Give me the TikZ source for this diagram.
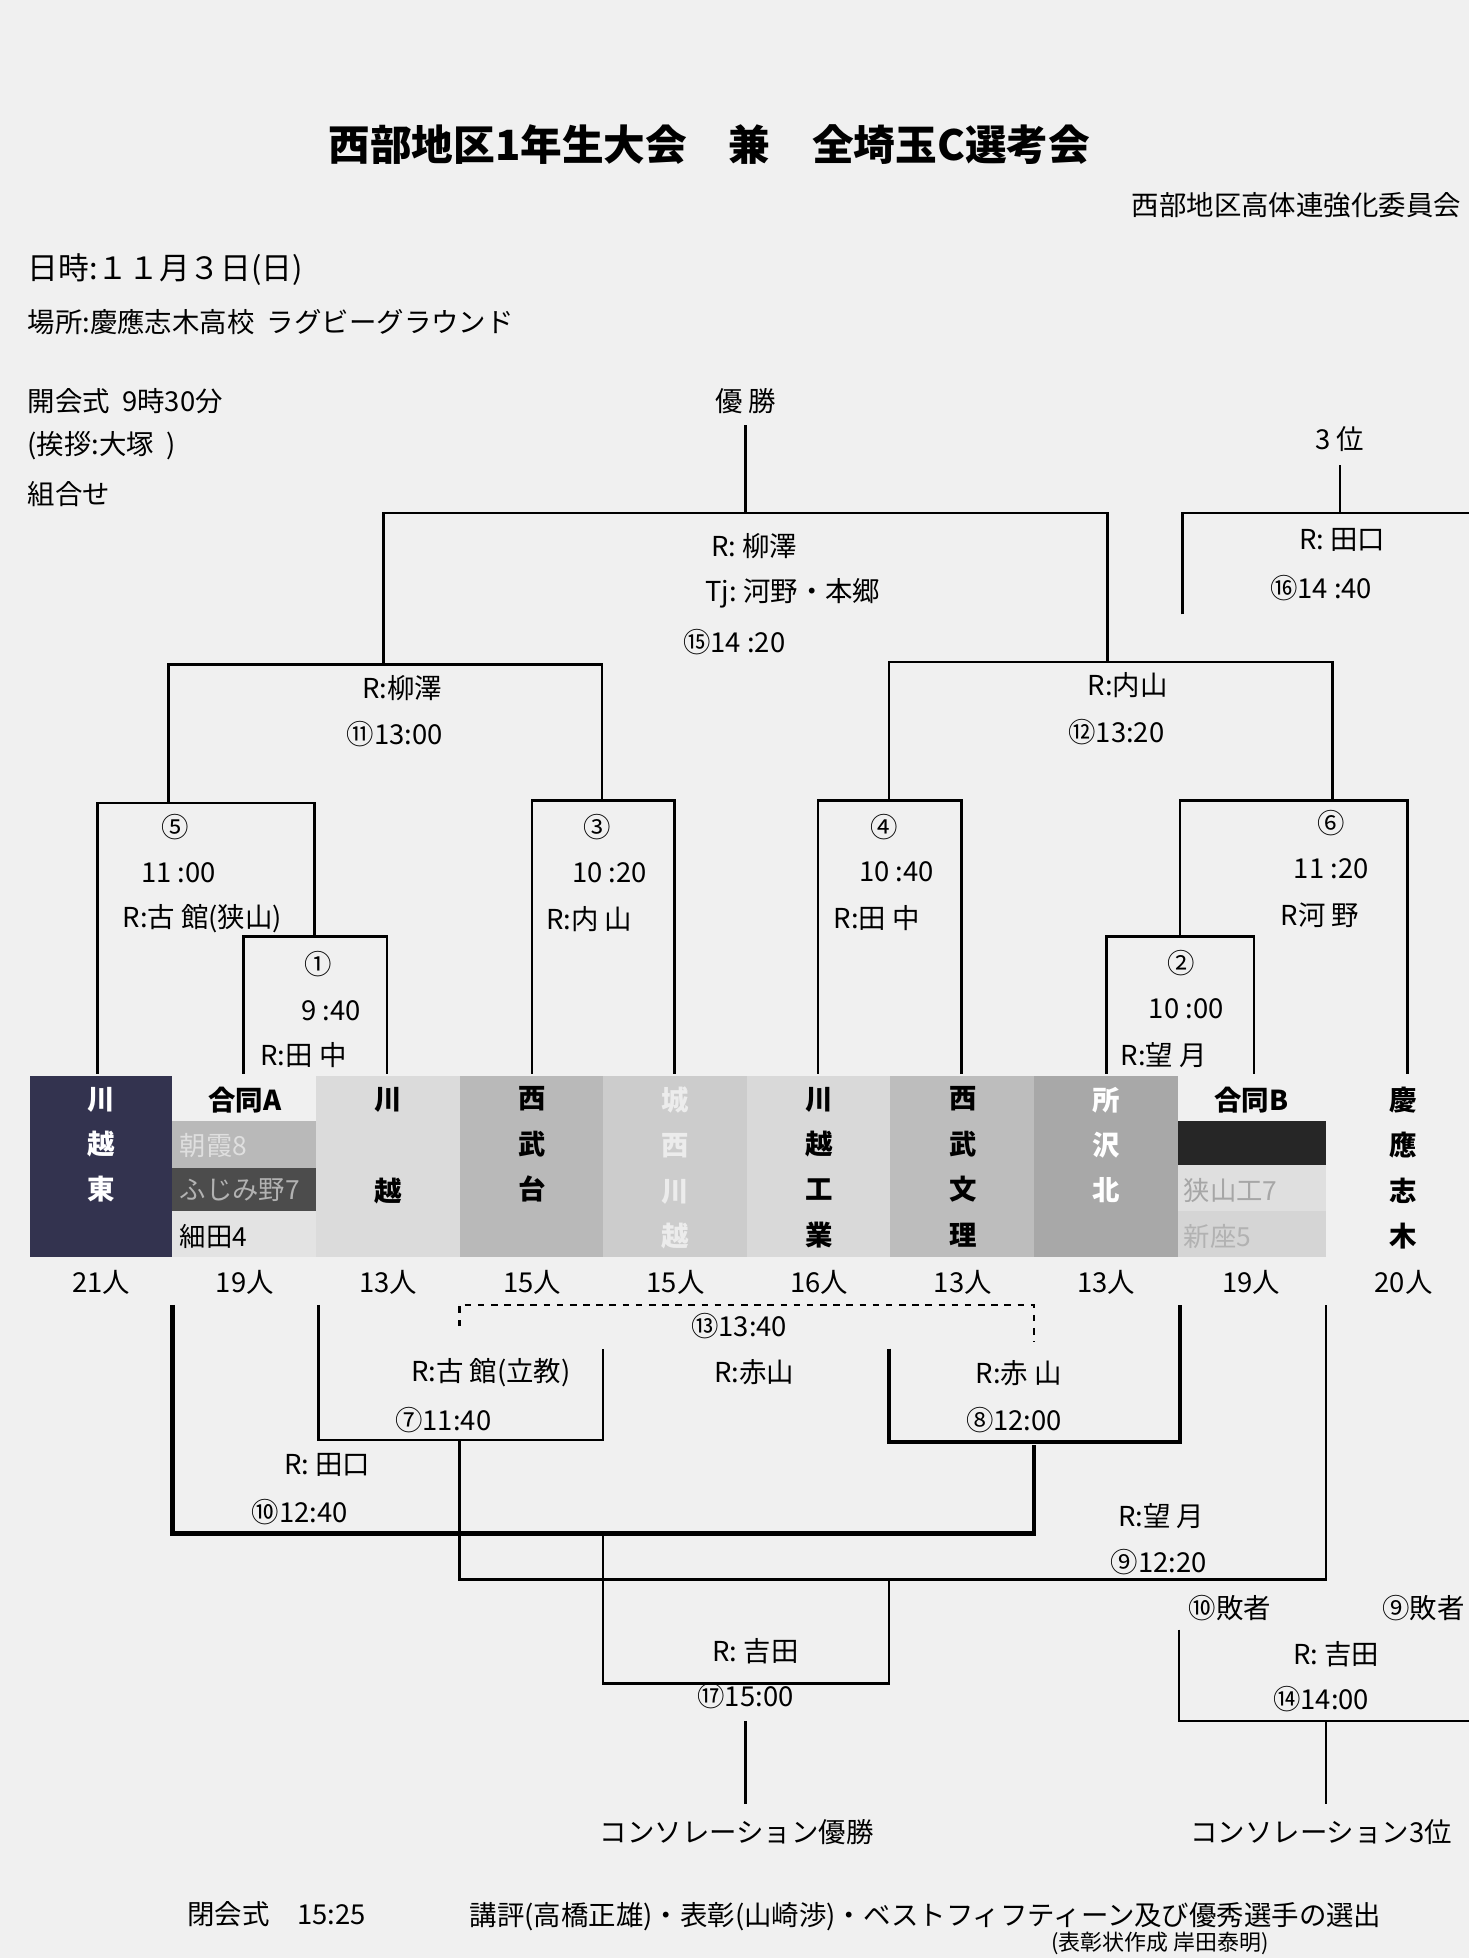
\documentclass[tikz,border=0pt]{standalone}
\usepackage{fontspec}
\setmainfont{Noto Sans CJK JP}
\usetikzlibrary{positioning}

\begin{document}
\begin{tikzpicture}[x=0.02cm,y=-0.02cm]
  % 定义样式
  \tikzset{line/.style = {draw, line width=1.1pt}}
  \tikzset{win/.style = {draw, line width=2pt}}
  \tikzset{lab/.style = {font=\fontsize{12.5}{14}\selectfont, inner sep=1pt}}
  \tikzset{team/.style = {font=\fontsize{12.5}{20.7}\selectfont\bfseries, align=center, inner sep=0pt}}
  \tikzset{sub/.style = {font=\fontsize{12}{14}\selectfont, anchor=west, inner sep=1pt}}

  % 背景
  \fill[gray!12] (0,0) rectangle (1176,1568);
  \useasboundingbox (0,0) rectangle (1176,1568);

  % 标题
  \node[font=\fontsize{19}{22}\selectfont\bfseries] (title) at (568,116) {西部地区1年生大会\quad 兼\quad 全埼玉C選考会};
  \node[lab, anchor=east] (org) at (1172,164) {西部地区高体連強化委員会};
  \node[lab, anchor=west, font=\fontsize{14}{16}\selectfont] (date) at (20,216) {日時:１１月３日(日)};
  \node[lab, anchor=west] (place) at (20,258) {場所:慶應志木高校\ \ ラグビーグラウンド};
  \node[lab, anchor=west] (open) at (20,321) {開会式\ \ 9時30分};
  \node[lab, anchor=west] (greet) at (20,357) {(挨拶:大塚\ \ )};
  \node[lab, anchor=west] (draw) at (20,396) {組合せ};

  % 队伍色块
  \fill[black!82!blue!60!gray] (24,862) rectangle (138,1007);
  \fill[gray!55] (138,898) rectangle (253,935);
  \fill[black!70] (138,935) rectangle (253,970);
  \fill[gray!22] (138,970) rectangle (253,1007);
  \fill[gray!28] (253,862) rectangle (368,1007);
  \fill[gray!55] (368,862) rectangle (483,1007);
  \fill[gray!40] (483,862) rectangle (598,1007);
  \fill[gray!30] (598,862) rectangle (713,1007);
  \fill[gray!52] (713,862) rectangle (828,1007);
  \fill[gray!68] (828,862) rectangle (943,1007);
  \fill[black!85] (943,898) rectangle (1062,933);
  \fill[gray!25] (943,933) rectangle (1062,970);
  \fill[gray!33] (943,970) rectangle (1062,1007);

  \node[team, text=white, anchor=north] (kh) at (81,870) {川\\越\\東};
  \node[team] (gA) at (196,881) {合同A};
  \node[sub, text=gray!25] (asaka) at (142,917) {朝霞8};
  \node[sub, text=gray!60] (fuji) at (142,953) {ふじみ野7};
  \node[sub] (hoso) at (142,990) {細田4};
  \node[team] (kw1) at (311,881) {川};
  \node[team] (kw2) at (311,954) {越};
  \node[team, anchor=north] (sbd) at (426,870) {西\\武\\台};
  \node[team, text=gray!15, anchor=north] (jsk) at (541,870) {城\\西\\川\\越};
  \node[team, anchor=north] (kkg) at (656,870) {川\\越\\工\\業};
  \node[team, anchor=north] (sbr) at (771,870) {西\\武\\文\\理};
  \node[team, text=white, anchor=north] (tzk) at (886,870) {所\\沢\\北};
  \node[team] (gB) at (1002,881) {合同B};
  \node[sub, text=gray!70] (sym) at (946,953) {狭山工7};
  \node[sub, text=gray!60] (niiza) at (946,990) {新座5};
  \node[team, anchor=north] (ksk) at (1124,870) {慶\\應\\志\\木};

  % 人数
  \foreach \x/\n [count=\i] in {81/21,196/19,311/13,426/15,541/15,656/16,771/13,886/13,1002/19,1124/20}
    \node[lab] (num\i) at (\x,1027) {\n 人};

  % 上半区
  \draw[line] (78,860) |- (252,643) -- (252,750);
  \draw[line] (195,860) |- (310,750) -- (310,860);
  \draw[line] (426,860) |- (540,641) -- (540,860);
  \draw[line] (655,860) |- (770,641) -- (770,860);
  \draw[line] (886,860) |- (1004,750) -- (1004,860);
  \draw[line] (945,750) |- (1127,641) -- (1127,860);
  \draw[line] (135,643) |- (482,532) -- (482,641);
  \draw[line] (712,641) |- (1067,530) -- (1067,641);
  \draw[line] (307,532) |- (887,411) -- (887,530);
  \draw[line] (597,411) -- (597,340);
  \draw[line] (947,492) |- (1176,411);
  \draw[line] (1073,411) -- (1073,372);

  \node[lab] (win) at (597,321) {優 勝};
  \node[lab] (third) at (1073,352) {3 位};
  \node[lab] (r16) at (1075,432) {R:\ 田口};
  \node[lab] (t16) at (1058,471) {⑯14 :40};
  \node[lab] (r15) at (604,437) {R:\ 柳澤};
  \node[lab] (tj15) at (635,475) {Tj:\ 河野・本郷};
  \node[lab] (t15) at (588,514) {⑮14 :20};
  \node[lab] (r11) at (322,551) {R:柳澤};
  \node[lab] (t11) at (316,588) {⑪13:00};
  \node[lab] (r12) at (903,549) {R:内山};
  \node[lab] (t12) at (894,586) {⑫13:20};
  \node[lab] (m5) at (140,662) {⑤};
  \node[lab] (t5) at (143,699) {11 :00};
  \node[lab] (r5) at (162,736) {R:古 館(狭山)};
  \node[lab] (m1) at (255,772) {①};
  \node[lab] (t1) at (265,809) {9 :40};
  \node[lab] (r1) at (243,845) {R:田 中};
  \node[lab] (m3) at (478,662) {③};
  \node[lab] (t3) at (488,699) {10 :20};
  \node[lab] (r3) at (472,736) {R:内 山};
  \node[lab] (m4) at (708,662) {④};
  \node[lab] (t4) at (718,698) {10 :40};
  \node[lab] (r4) at (702,735) {R:田 中};
  \node[lab] (m6) at (1066,659) {⑥};
  \node[lab] (t6) at (1066,696) {11 :20};
  \node[lab] (r6) at (1057,733) {R河 野};
  \node[lab] (m2) at (946,771) {②};
  \node[lab] (t2) at (950,808) {10 :00};
  \node[lab] (r2) at (932,845) {R:望 月};

  % 下半区
  \draw[line, dashed] (368,1062) |- (828,1045) -- (828,1075);
  \draw[line] (255,1045) |- (483,1153) -- (483,1080);
  \draw[win] (712,1080) |- (945,1155) -- (945,1045);
  \draw[win] (138,1045) |- (828,1228) -- (828,1157);
  \draw[line] (368,1153) |- (1062,1265) -- (1062,1045);
  \draw[line] (483,1228) |- (712,1348) -- (712,1265);
  \draw[line] (597,1378) -- (597,1445);
  \draw[line] (944,1305) |- (1176,1378);
  \draw[line] (1062,1378) -- (1062,1445);

  \node[lab] (t13) at (592,1062) {⑬13:40};
  \node[lab] (r13) at (604,1099) {R:赤山};
  \node[lab] (r7) at (393,1099) {R:古 館(立教)};
  \node[lab] (t7) at (355,1137) {⑦11:40};
  \node[lab] (r8) at (816,1100) {R:赤 山};
  \node[lab] (t8) at (812,1137) {⑧12:00};
  \node[lab] (r10) at (262,1173) {R:\ 田口};
  \node[lab] (t10) at (240,1211) {⑩12:40};
  \node[lab] (r9) at (930,1214) {R:望 月};
  \node[lab] (t9) at (928,1251) {⑨12:20};
  \node[lab] (r17) at (605,1322) {R:\ 吉田};
  \node[lab] (t17) at (597,1358) {⑰15:00};
  \node[lab] (l10) at (985,1288) {⑩敗者};
  \node[lab] (l9) at (1140,1288) {⑨敗者};
  \node[lab] (r14) at (1070,1325) {R:\ 吉田};
  \node[lab] (t14) at (1058,1361) {⑭14:00};
  \node[lab] (cwin) at (590,1467) {コンソレーション優勝};
  \node[lab] (c3) at (1058,1467) {コンソレーション3位};

  % 闭会式
  \node[lab, anchor=west] (close) at (148,1533) {閉会式\quad 15:25};
  \node[lab, anchor=west] (award) at (374,1535) {講評(高橋正雄)・表彰(山崎渉)・ベストフィフティーン及び優秀選手の選出};
  \node[lab, anchor=west, font=\fontsize{10}{12}\selectfont] (cert) at (840,1556) {(表彰状作成\ 岸田泰明)};
\end{tikzpicture}
\end{document}
